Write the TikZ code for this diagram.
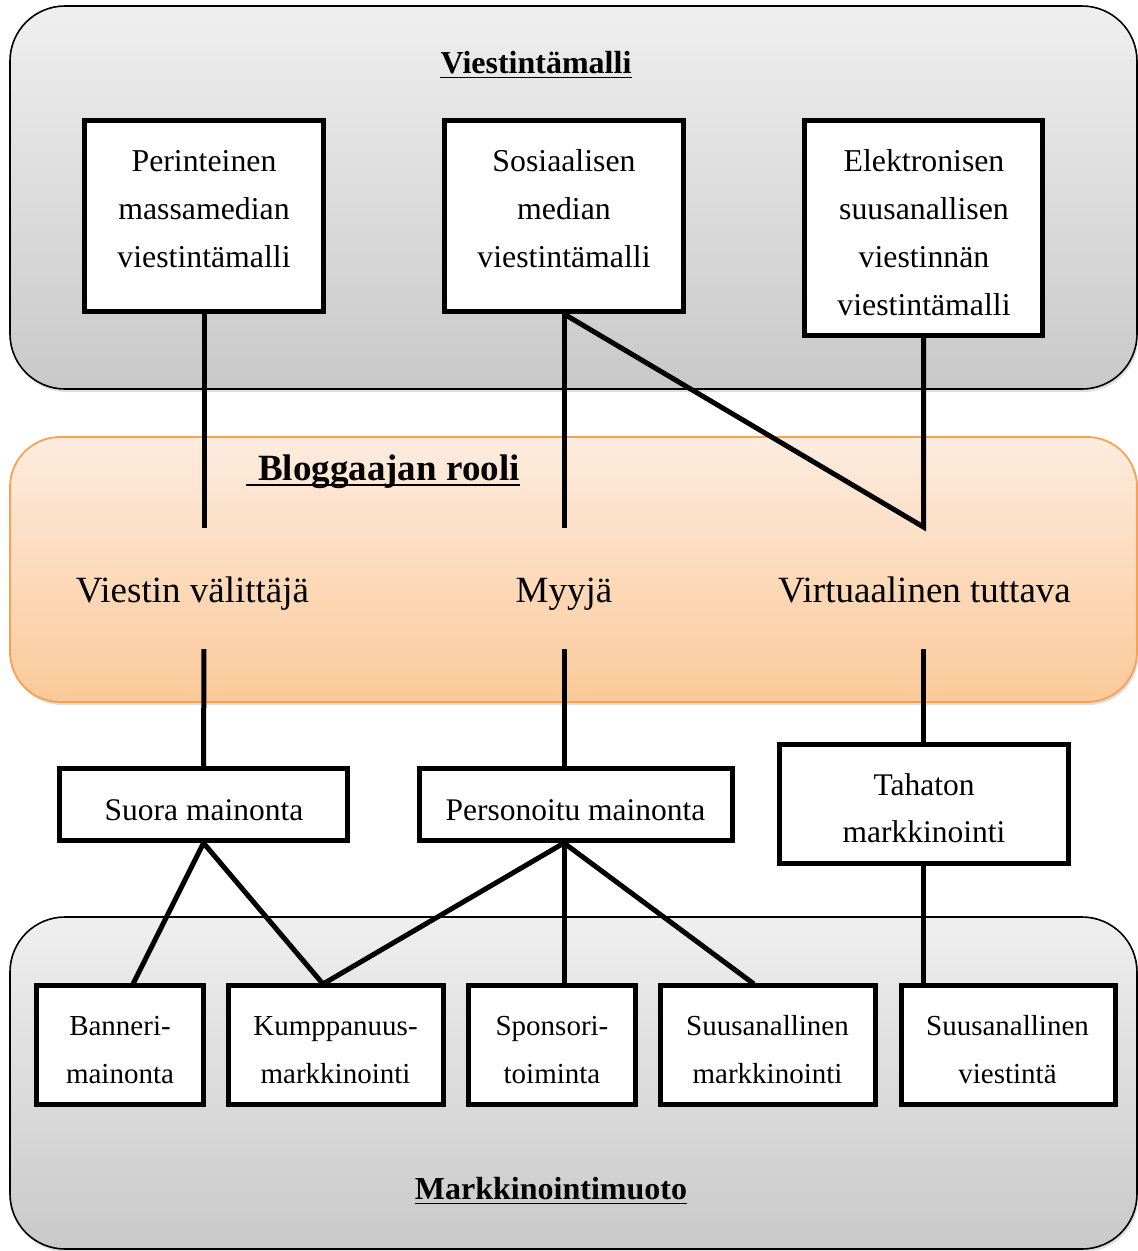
\documentclass[tikz,border=0pt]{standalone}
\usepackage{fontspec}
\setmainfont{Liberation Serif}
\usetikzlibrary{shadows}

\definecolor{panelTop}{RGB}{239,239,239}
\definecolor{panelBot}{RGB}{201,201,201}
\definecolor{roleTop}{RGB}{253,236,223}
\definecolor{roleBot}{RGB}{251,201,153}
\definecolor{roleEdge}{RGB}{247,162,82}

% invisible strut that fixes the height of a text block's first line
\newcommand\firstline{\rule{0pt}{24pt}}

\pgfdeclarelayer{panels}
\pgfdeclarelayer{links}
\pgfsetlayers{panels,links,main}

\begin{document}
\begin{tikzpicture}[x=1pt,y=-1pt,
  panel/.style={draw=black, line width=1.6pt, rounded corners=55pt,
    top color=panelTop, bottom color=panelBot,
    drop shadow={shadow xshift=1.5pt, shadow yshift=-3pt, opacity=0.25}},
  rolepanel/.style={draw=roleEdge, line width=1.8pt, rounded corners=50pt,
    top color=roleTop, bottom color=roleBot,
    drop shadow={shadow xshift=1.5pt, shadow yshift=-3pt, opacity=0.25}},
  box/.style={draw=black, line width=5pt, fill=white, inner sep=0pt},
  txt/.style={anchor=north, inner sep=0pt, align=center},
  conn/.style={draw=black, line width=5pt},
  title/.style={inner sep=0pt, anchor=base, font=\bfseries\fontsize{32}{36}\selectfont},
  uline/.style={draw=black, line width=1.7pt},
  topfont/.style={font=\fontsize{31.8}{48}\selectfont},
  midfont/.style={font=\fontsize{31.5}{47}\selectfont},
  lowfont/.style={font=\fontsize{29}{48}\selectfont},
  rolefont/.style={inner sep=0pt, anchor=base, font=\fontsize{37}{44}\selectfont}
]
\useasboundingbox (0,0) rectangle (1138,1251);

% ---------- background panels ----------
\begin{pgfonlayer}{panels}
  \path[panel] (10,6) rectangle (1137,389);
  \path[rolepanel] (10,437) rectangle (1137,702);
  \path[panel] (10,917) rectangle (1137,1249);
\end{pgfonlayer}

% ---------- panel titles ----------
\node[title] (tViestinta) at (536,73) {Viestintämalli};
\draw[uline] ([yshift=-4.5pt]tViestinta.base west) -- ([yshift=-4.5pt]tViestinta.base east);

\node[title, anchor=base west, font=\bfseries\fontsize{37}{44}\selectfont] (tRooli) at (246,480) {\hspace*{12pt}Bloggaajan rooli};
\draw[uline] ([yshift=-5pt]tRooli.base west) -- ([yshift=-5pt]tRooli.base east);

\node[title] (tMuoto) at (551,1199) {Markkinointimuoto};
\draw[uline] ([yshift=-4.5pt]tMuoto.base west) -- ([yshift=-4.5pt]tMuoto.base east);

% ---------- communication models ----------
\node[box, minimum width=239pt, minimum height=191pt] (b1) at (204,216) {};
\node[txt, topfont] (b1t) at (204,147) {\firstline Perinteinen\\massamedian\\viestintämalli};
\node[box, minimum width=239pt, minimum height=191pt] (b2) at (564,216) {};
\node[txt, topfont] (b2t) at (564,147) {\firstline Sosiaalisen\\median\\viestintämalli};
\node[box, minimum width=238pt, minimum height=215pt] (b3) at (923.5,228) {};
\node[txt, topfont] (b3t) at (924,147) {\firstline Elektronisen\\suusanallisen\\viestinnän\\viestintämalli};

% ---------- blogger roles ----------
\node[rolefont] (r1) at (192.5,602) {Viestin välittäjä};
\node[rolefont] (r2) at (564,602) {Myyjä};
\node[rolefont] (r3) at (924.5,602) {Virtuaalinen tuttava};

% ---------- advertising types ----------
\node[box, minimum width=288pt, minimum height=72pt] (sm) at (203.5,804.5) {};
\node[txt, midfont] (smt) at (204,796) {\firstline Suora mainonta};
\node[box, minimum width=313pt, minimum height=72pt] (pm) at (576,804.5) {};
\node[txt, midfont] (pmt) at (575.5,796) {\firstline Personoitu mainonta};
\node[box, minimum width=289pt, minimum height=119pt] (tm) at (923.5,804) {};
\node[txt, midfont] (tmt) at (924,771) {\firstline Tahaton\\markkinointi};

% ---------- marketing forms ----------
\node[box, minimum width=167pt, minimum height=119pt] (ban) at (119.5,1044.5) {};
\node[txt, lowfont] (bant) at (120,1011) {\firstline Banneri-\\mainonta};
\node[box, minimum width=215.5pt, minimum height=119pt] (kum) at (336,1044.5) {};
\node[txt, lowfont] (kumt) at (335.5,1011) {\firstline Kumppanuus-\\markkinointi};
\node[box, minimum width=167pt, minimum height=119pt] (spo) at (552,1044.5) {};
\node[txt, lowfont] (spot) at (552,1011) {\firstline Sponsori-\\toiminta};
\node[box, minimum width=215pt, minimum height=119pt] (sum) at (767.5,1044.5) {};
\node[txt, lowfont] (sumt) at (767.5,1011) {\firstline Suusanallinen\\markkinointi};
\node[box, minimum width=214pt, minimum height=119pt] (suv) at (1008.5,1044.5) {};
\node[txt, lowfont] (suvt) at (1007.5,1011) {\firstline Suusanallinen\\viestintä};

% ---------- connector end points ----------
\coordinate (r1in) at (204,528);
\coordinate (r2in) at (564,528);
\coordinate (r3in) at (923.5,527);
\coordinate (r1out) at (204,649);
\coordinate (r2out) at (564,649);
\coordinate (r3out) at (923.5,649);
\coordinate (pmfoot) at (pm.south -| r2out);
\coordinate (banIn) at (133,984);
\coordinate (kumIn) at (323,984);
\coordinate (spoIn) at (564,984);
\coordinate (sumIn) at (754,984);

% ---------- connectors ----------
\begin{pgfonlayer}{links}
  \draw[conn] (b1.south) -- (r1in);
  \draw[conn] (b2.south) -- (r2in);
  \draw[conn] (b2.south) -- (r3in) -- (b3.south);
  \draw[conn] (r1out) -- (sm.north);
  \draw[conn] (r2out) -- (pm.north -| r2out);
  \draw[conn] (r3out) -- (tm.north);
  \draw[conn] (sm.south) -- (banIn);
  \draw[conn] (sm.south) -- (kumIn) -- (pmfoot);
  \draw[conn] (pmfoot) -- (spoIn);
  \draw[conn] (pmfoot) -- (sumIn);
  \draw[conn] (tm.south) -- (suv.north -| tm.south);
\end{pgfonlayer}
\end{tikzpicture}
\end{document}
